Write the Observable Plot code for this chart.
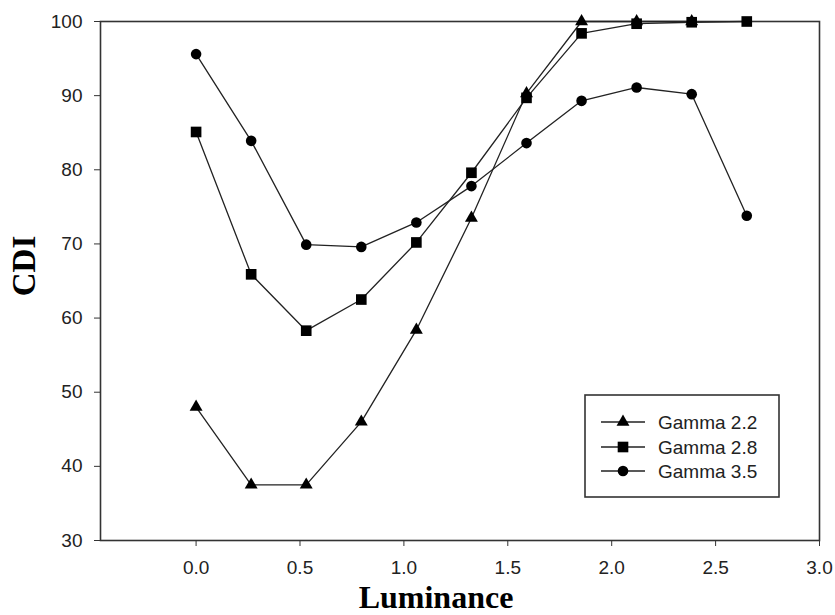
<!DOCTYPE html>
<html>
<head>
<meta charset="utf-8">
<script src="https://cdn.jsdelivr.net/npm/d3@7"></script>
<script src="https://cdn.jsdelivr.net/npm/@observablehq/plot@0.6"></script>
<style>
  html, body { margin: 0; padding: 0; background: #fff; }
  #chart svg { display: block; }
</style>
</head>
<body>
<div id="chart"></div>
<script>
const luminance = [0, 0.265, 0.53, 0.795, 1.06, 1.325, 1.59, 1.855, 2.12, 2.385, 2.65];
const gamma22 = [48.0, 37.5, 37.5, 46.0, 58.4, 73.5, 90.3, 100, 100, 100];
const gamma28 = [85.1, 65.9, 58.3, 62.5, 70.2, 79.6, 89.7, 98.4, 99.7, 99.9, 100];
const gamma35 = [95.6, 83.9, 69.9, 69.6, 72.9, 77.8, 83.6, 89.3, 91.1, 90.2, 73.8];
const seriesNames = ["Gamma 2.2", "Gamma 2.8", "Gamma 3.5"];
const seriesSymbols = ["triangle", "square", "circle"];
const seriesR = [4.8, 6, 5.3];
const xTicks = [0, 0.5, 1, 1.5, 2, 2.5, 3];
const yTicks = [30, 40, 50, 60, 70, 80, 90, 100];

const seriesValues = [gamma22, gamma28, gamma35];
const data = [];
seriesValues.forEach((vals, i) => {
  vals.forEach((v, j) => data.push({series: seriesNames[i], x: luminance[j], y: v, i}));
});

const font = "'Liberation Sans', Arial, sans-serif";
const marks = [
  Plot.frame({stroke: "#333", strokeWidth: 1.6}),
  Plot.axisX({ticks: xTicks, tickFormat: d3.format(".1f"), tickSize: 6, tickPadding: 14, label: null, fontSize: 19, stroke: "#333"}),
  Plot.axisY({ticks: yTicks, tickFormat: d => d, tickSize: 6, tickPadding: 12, label: null, fontSize: 19, stroke: "#333"}),
];
seriesNames.forEach((name, i) => {
  const d = data.filter(p => p.i === i);
  marks.push(Plot.line(d, {x: "x", y: "y", stroke: "#222", strokeWidth: 1.3}));
  marks.push(Plot.dot(d, {x: "x", y: "y", symbol: () => seriesSymbols[i], r: seriesR[i], fill: "#000", stroke: "none"}));
});

const chart = Plot.plot({
  width: 835,
  height: 615,
  marginLeft: 100,
  marginRight: 16,
  marginTop: 21,
  marginBottom: 75,
  style: {fontFamily: font, color: "#222", background: "#fff"},
  x: {domain: [-0.46, 3.0]},
  y: {domain: [30, 100]},
  symbol: {type: "identity"},
  marks
});
document.getElementById("chart").appendChild(chart);

// Axis titles and legend
const svg = d3.select(chart);
svg.append("text")
  .attr("x", 436).attr("y", 608)
  .attr("text-anchor", "middle")
  .style("font", "bold 32px 'Liberation Serif', 'Times New Roman', serif")
  .attr("fill", "#000")
  .text("Luminance");
svg.append("text")
  .attr("transform", "translate(35,266) rotate(-90)")
  .attr("text-anchor", "middle")
  .style("font", "bold 33px 'Liberation Serif', 'Times New Roman', serif")
  .attr("fill", "#000")
  .text("CDI");

const lg = svg.append("g");
lg.append("rect")
  .attr("x", 585).attr("y", 395).attr("width", 194).attr("height", 102)
  .attr("fill", "#fff").attr("stroke", "#333").attr("stroke-width", 1.6);
const rowsY = [422, 447, 471];
const symMap = {triangle: d3.symbolTriangle, square: d3.symbolSquare, circle: d3.symbolCircle};
seriesNames.forEach((name, i) => {
  const y = rowsY[i];
  lg.append("line").attr("x1", 601).attr("x2", 645).attr("y1", y).attr("y2", y)
    .attr("stroke", "#222").attr("stroke-width", 1.3);
  lg.append("path")
    .attr("transform", `translate(623,${y})`)
    .attr("d", d3.symbol(symMap[seriesSymbols[i]], Math.PI * seriesR[i] * seriesR[i])())
    .attr("fill", "#000");
  lg.append("text").attr("x", 658).attr("y", y).attr("dy", "0.35em")
    .attr("text-anchor", "start")
    .style("font", `19px ${font}`).attr("fill", "#222")
    .text(name);
});
</script>
</body>
</html>
